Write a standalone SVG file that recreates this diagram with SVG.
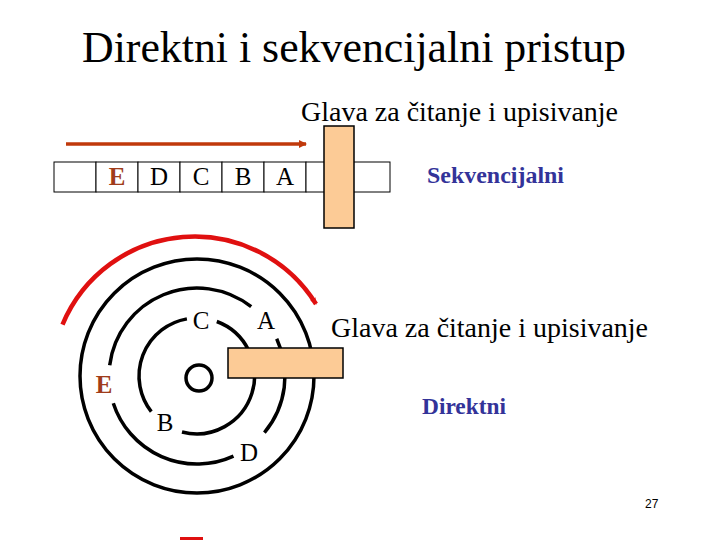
<svg xmlns="http://www.w3.org/2000/svg" width="720" height="540" viewBox="0 0 720 540">
<style>
.t{font-family:"Liberation Serif","Times New Roman",serif;fill:#000}
.cell{fill:#fff;stroke:#000;stroke-width:1}
.trk{fill:none;stroke:#000;stroke-width:3.5;stroke-linecap:butt}
.head{fill:#fccb96;stroke:#000;stroke-width:1.5}
.lbl{font-family:"Liberation Serif","Times New Roman",serif;font-size:25px;fill:#000;text-anchor:middle}
.brn{fill:#a03c1a;font-weight:bold}
.blue{font-family:"Liberation Serif","Times New Roman",serif;font-size:24px;font-weight:bold;fill:#333399}
</style>
<defs>
<marker id="ah1" markerWidth="8" markerHeight="8" refX="7" refY="4" orient="auto" markerUnits="userSpaceOnUse">
<path d="M0,0 L8,4 L0,8 Z" fill="#c0390b"/>
</marker>
<marker id="ah2" markerWidth="8" markerHeight="8" refX="6" refY="4" orient="auto" markerUnits="userSpaceOnUse">
<path d="M0,1 L7,4 L0,7 Z" fill="#e01010"/>
</marker>
</defs>
<rect width="720" height="540" fill="#fff"/>
<text class="t" x="82" y="62" font-size="44" textLength="544" lengthAdjust="spacingAndGlyphs">Direktni i sekvencijalni pristup</text>

<g id="tape">
<rect class="cell" x="54" y="162" width="42" height="30"/>
<rect class="cell" x="96" y="162" width="42" height="30"/>
<rect class="cell" x="138" y="162" width="42" height="30"/>
<rect class="cell" x="180" y="162" width="42" height="30"/>
<rect class="cell" x="222" y="162" width="42" height="30"/>
<rect class="cell" x="264" y="162" width="42" height="30"/>
<rect class="cell" x="306" y="162" width="42" height="30"/>
<rect class="cell" x="348" y="162" width="42" height="30"/>
<text class="lbl brn" x="117" y="185">E</text>
<text class="lbl" x="159" y="185">D</text>
<text class="lbl" x="201" y="185">C</text>
<text class="lbl" x="243" y="185">B</text>
<text class="lbl" x="285" y="185">A</text>
</g>
<g id="tapehead"><rect class="head" x="324" y="126" width="30" height="102"/></g>
<text id="lblSeqHead" class="t" x="301" y="121" font-size="27" textLength="317" lengthAdjust="spacingAndGlyphs">Glava za čitanje i upisivanje</text>
<text id="lblSeq" class="blue" x="427" y="183" textLength="137" lengthAdjust="spacingAndGlyphs">Sekvencijalni</text>

<g id="disk">
<circle class="trk" cx="197" cy="376" r="117"/>
<path class="trk" d="M109.7,365.3 A88,88 0 0 1 251.2,306.7"/>
<path class="trk" d="M233.5,456.1 A88,88 0 0 1 113.3,403.2"/>
<path class="trk" d="M276.7,338.8 A88,88 0 0 1 264.4,432.6"/>
<path class="trk" d="M151.3,411.7 A58,58 0 0 1 186.9,318.9"/>
<path class="trk" d="M216.8,321.5 A58,58 0 0 1 182.0,432.0"/>
<circle class="trk" cx="199" cy="378" r="13" stroke-width="3"/>
<text class="lbl" x="201" y="329">C</text>
<text class="lbl" x="266" y="329">A</text>
<text class="lbl" x="165" y="431">B</text>
<text class="lbl" x="249" y="461">D</text>
<text class="lbl brn" x="104" y="393">E</text>
</g>
<g id="diskhead"><rect class="head" x="228" y="348" width="115" height="30"/></g>
<text id="lblDirHead" class="t" x="331" y="337" font-size="27" textLength="317" lengthAdjust="spacingAndGlyphs">Glava za čitanje i upisivanje</text>
<text id="lblDir" class="blue" x="422" y="414" textLength="84" lengthAdjust="spacingAndGlyphs">Direktni</text>

<g id="connectors">
<line x1="66" y1="144" x2="306" y2="144" stroke="#c0390b" stroke-width="3.5" marker-end="url(#ah1)"/>
<path d="M62.5,324.7 A143,143 0 0 1 316,304" fill="none" stroke="#e01010" stroke-width="4.5" marker-end="url(#ah2)"/>
</g>
<rect x="180" y="537" width="23" height="3" fill="#e01010"/>
<text x="645" y="508" font-family="Liberation Sans,Arial,sans-serif" font-size="12" fill="#000">27</text>
</svg>
